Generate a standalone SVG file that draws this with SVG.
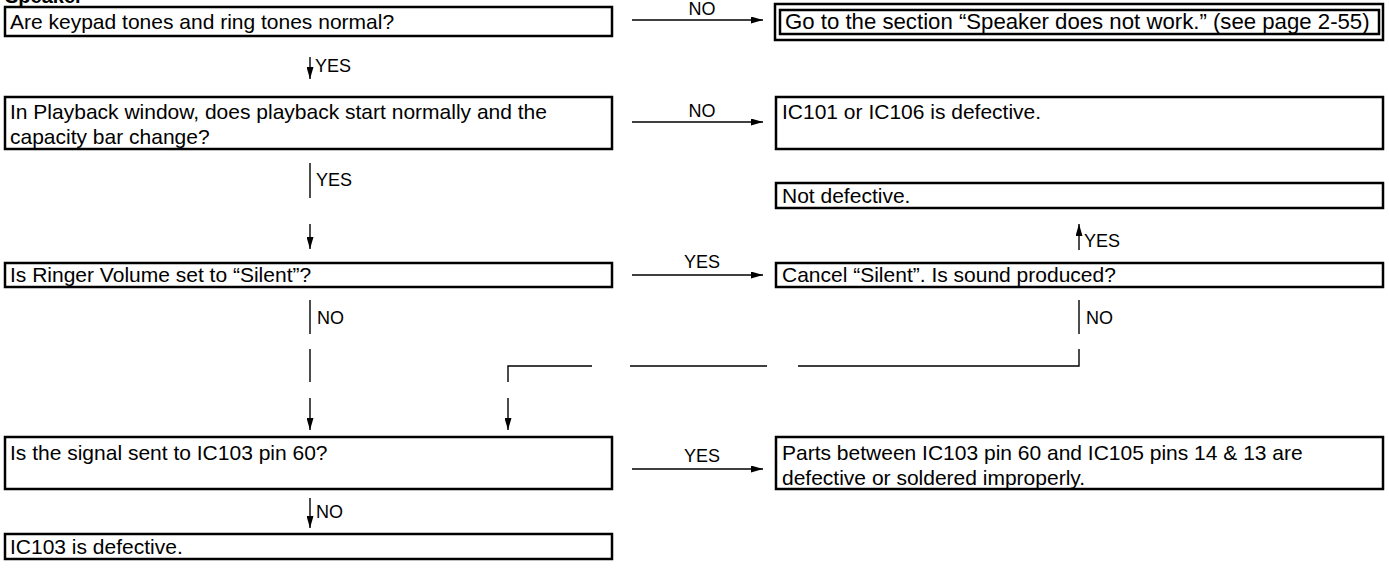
<svg xmlns="http://www.w3.org/2000/svg" width="1389" height="577" viewBox="0 0 1389 577">
<style>
.box{fill:#fff;stroke:#000;stroke-width:2.5}
.t{font-family:"Liberation Sans",Arial,sans-serif;font-size:21px;fill:#000}
.lbl{font-family:"Liberation Sans",Arial,sans-serif;font-size:18px;fill:#000}
.ttl{font-family:"Liberation Sans",Arial,sans-serif;font-size:20px;font-weight:bold;fill:#000}
.ln{fill:none;stroke:#000;stroke-width:1.4}
</style>
<defs>
<marker id="ah" viewBox="0 0 12 7" refX="12" refY="3.5" markerWidth="12" markerHeight="7" markerUnits="userSpaceOnUse" orient="auto">
<path d="M0,0 L12,3.5 L0,7 Z" fill="#000"/>
</marker>
</defs>
<rect width="1389" height="577" fill="#fff"/>
<text class="ttl" x="5" y="3">Speaker</text>

<g id="connectors">
<line class="ln" x1="632" y1="20" x2="763" y2="20" marker-end="url(#ah)"/>
<text class="lbl" x="702" y="15" text-anchor="middle">NO</text>
<line class="ln" x1="310" y1="57" x2="310" y2="79" marker-end="url(#ah)"/>
<text class="lbl" x="315" y="72">YES</text>
<line class="ln" x1="632" y1="122" x2="763" y2="122" marker-end="url(#ah)"/>
<text class="lbl" x="702" y="117" text-anchor="middle">NO</text>
<line class="ln" x1="310" y1="163" x2="310" y2="198"/>
<text class="lbl" x="316" y="186">YES</text>
<line class="ln" x1="310" y1="224" x2="310" y2="249" marker-end="url(#ah)"/>
<line class="ln" x1="632" y1="275" x2="763" y2="275" marker-end="url(#ah)"/>
<text class="lbl" x="702" y="268" text-anchor="middle">YES</text>
<line class="ln" x1="1079" y1="250" x2="1079" y2="224" marker-end="url(#ah)"/>
<text class="lbl" x="1084" y="247">YES</text>
<line class="ln" x1="310" y1="300" x2="310" y2="334"/>
<text class="lbl" x="317" y="324">NO</text>
<line class="ln" x1="310" y1="349" x2="310" y2="382"/>
<line class="ln" x1="310" y1="398" x2="310" y2="430" marker-end="url(#ah)"/>
<line class="ln" x1="1079" y1="300" x2="1079" y2="334"/>
<text class="lbl" x="1086" y="324">NO</text>
<polyline class="ln" points="1079,349 1079,366 798,366"/>
<line class="ln" x1="767" y1="366" x2="630" y2="366"/>
<polyline class="ln" points="592,366 508,366 508,382"/>
<line class="ln" x1="508" y1="398" x2="508" y2="430" marker-end="url(#ah)"/>
<line class="ln" x1="632" y1="469" x2="763" y2="469" marker-end="url(#ah)"/>
<text class="lbl" x="702" y="462" text-anchor="middle">YES</text>
<line class="ln" x1="310" y1="498" x2="310" y2="528" marker-end="url(#ah)"/>
<text class="lbl" x="316" y="518">NO</text>
</g>

<g id="n1"><rect class="box" x="5" y="7" width="607" height="29"/><text class="t" x="10" y="29">Are keypad tones and ring tones normal?</text></g>
<g id="n2"><rect class="box" x="775" y="4" width="608" height="36" stroke-width="2.8"/><rect class="box" x="780" y="10" width="599" height="24" stroke-width="2.2"/><text class="t" x="785" y="29" style="font-size:22.2px">Go to the section “Speaker does not work.” (see page 2-55)</text></g>
<g id="n3"><rect class="box" x="5" y="97" width="607" height="52"/><text class="t" x="10" y="119">In Playback window, does playback start normally and the</text><text class="t" x="10" y="144">capacity bar change?</text></g>
<g id="n4"><rect class="box" x="776" y="97" width="607" height="52"/><text class="t" x="782" y="119">IC101 or IC106 is defective.</text></g>
<g id="n5"><rect class="box" x="776" y="183" width="607" height="25"/><text class="t" x="782" y="203">Not defective.</text></g>
<g id="n6"><rect class="box" x="5" y="263" width="607" height="24"/><text class="t" x="10" y="282">Is Ringer Volume set to “Silent”?</text></g>
<g id="n7"><rect class="box" x="776" y="263" width="607" height="24"/><text class="t" x="782" y="282">Cancel “Silent”. Is sound produced?</text></g>
<g id="n8"><rect class="box" x="5" y="437" width="607" height="52"/><text class="t" x="10" y="460">Is the signal sent to IC103 pin 60?</text></g>
<g id="n9"><rect class="box" x="776" y="437" width="607" height="52"/><text class="t" x="782" y="460">Parts between IC103 pin 60 and IC105 pins 14 &amp; 13 are</text><text class="t" x="782" y="485">defective or soldered improperly.</text></g>
<g id="n10"><rect class="box" x="5" y="534" width="607" height="25"/><text class="t" x="10" y="554">IC103 is defective.</text></g>
</svg>
